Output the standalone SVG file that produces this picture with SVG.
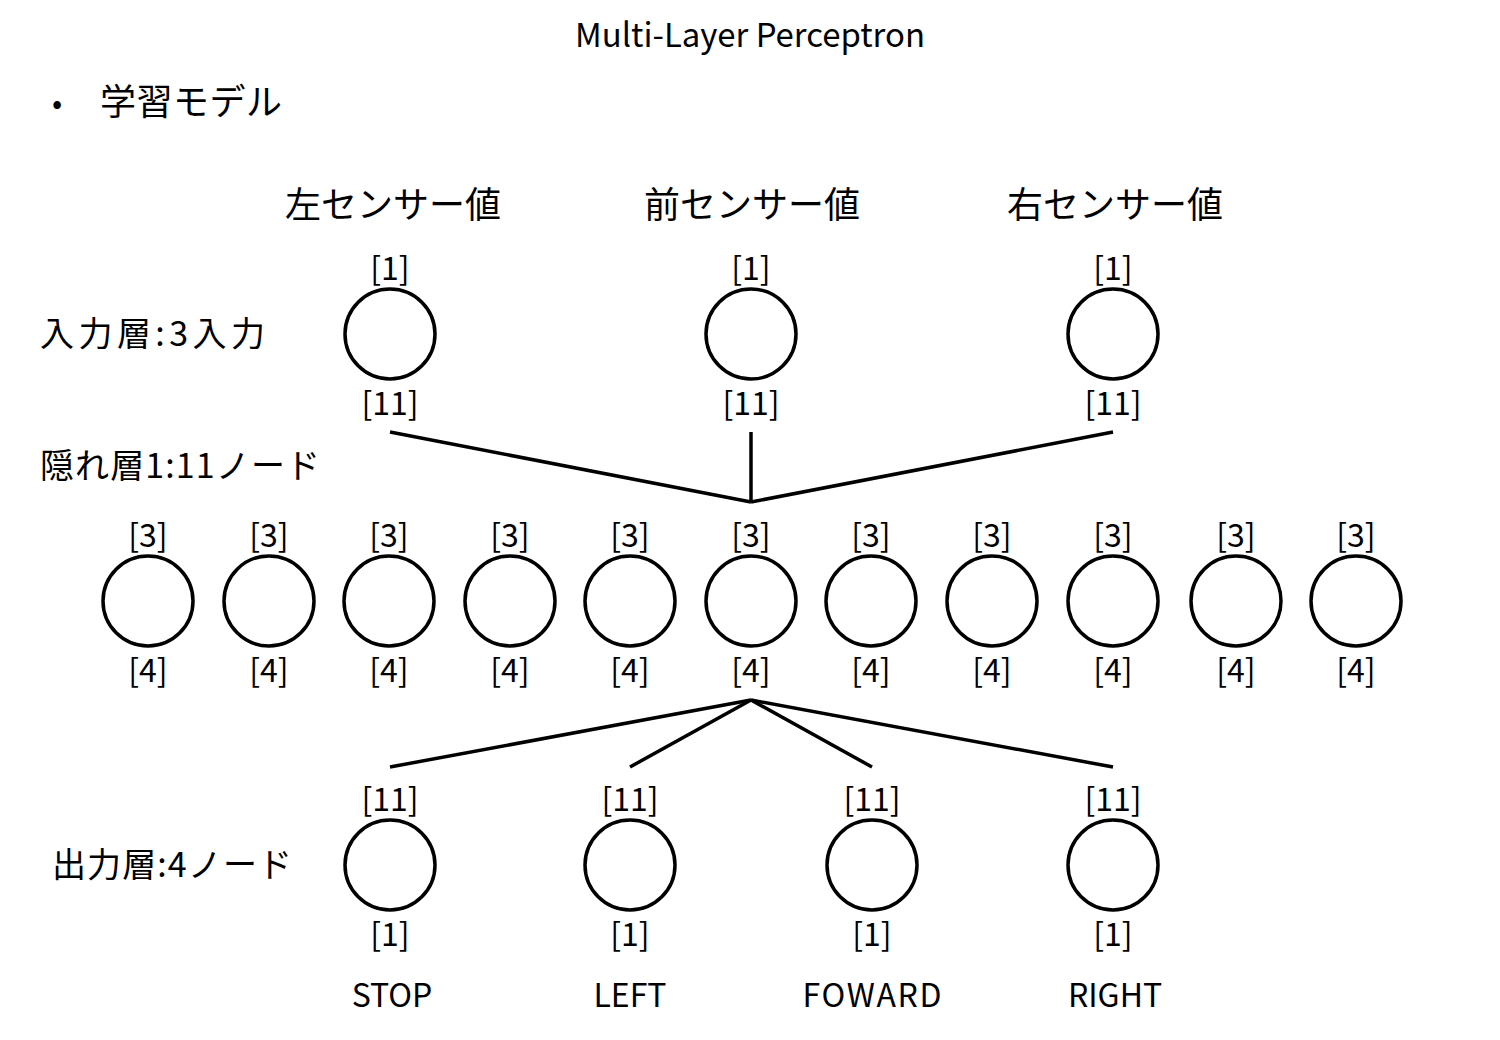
<svg xmlns="http://www.w3.org/2000/svg" width="1500" height="1040" viewBox="0 0 1500 1040">
<style>
text{font-family:"Noto Sans CJK JP","Noto Sans",sans-serif;fill:#000}
.t{font-size:32px;text-anchor:middle}
.b{font-size:32px;text-anchor:middle}
.j{font-size:34px}
.s{font-size:36px;text-anchor:middle}
.n{fill:#fff;stroke:#000;stroke-width:3.5}
.c{stroke:#000;stroke-width:3.5;fill:none}
</style>
<rect width="1500" height="1040" fill="#fff"/>
<text x="750" y="47" style="font-size:33px;text-anchor:middle" textLength="350" lengthAdjust="spacingAndGlyphs">Multi-Layer Perceptron</text>
<text x="52" y="114" style="font-size:30px">•</text>
<text x="100" y="115" style="font-size:36px" textLength="182">学習モデル</text>
<g id="layer-labels">
<text class="j" x="40" y="346" textLength="225">入力層:3入力</text>
<text class="j" x="40" y="478" textLength="280">隠れ層1:11ノード</text>
<text class="j" x="52" y="877" textLength="240">出力層:4ノード</text>
</g>
<g id="connectors">
<line class="c" x1="390" y1="432" x2="751" y2="502"/>
<line class="c" x1="751" y1="432" x2="751" y2="502"/>
<line class="c" x1="1113" y1="432" x2="751" y2="502"/>
<line class="c" x1="751" y1="700" x2="390" y2="767"/>
<line class="c" x1="751" y1="700" x2="630" y2="767"/>
<line class="c" x1="751" y1="700" x2="872" y2="767"/>
<line class="c" x1="751" y1="700" x2="1113" y2="767"/>
</g>
<g id="in1"><text class="s" x="393" y="218">左センサー値</text><text class="b" x="390" y="280">[1]</text><circle class="n" cx="390" cy="334" r="45"/><text class="b" x="390" y="415">[11]</text></g>
<g id="in2"><text class="s" x="752" y="218">前センサー値</text><text class="b" x="751" y="280">[1]</text><circle class="n" cx="751" cy="334" r="45"/><text class="b" x="751" y="415">[11]</text></g>
<g id="in3"><text class="s" x="1115" y="218">右センサー値</text><text class="b" x="1113" y="280">[1]</text><circle class="n" cx="1113" cy="334" r="45"/><text class="b" x="1113" y="415">[11]</text></g>
<g id="h1"><text class="b" x="148" y="547">[3]</text><circle class="n" cx="148" cy="601" r="45"/><text class="b" x="148" y="682">[4]</text></g>
<g id="h2"><text class="b" x="269" y="547">[3]</text><circle class="n" cx="269" cy="601" r="45"/><text class="b" x="269" y="682">[4]</text></g>
<g id="h3"><text class="b" x="389" y="547">[3]</text><circle class="n" cx="389" cy="601" r="45"/><text class="b" x="389" y="682">[4]</text></g>
<g id="h4"><text class="b" x="510" y="547">[3]</text><circle class="n" cx="510" cy="601" r="45"/><text class="b" x="510" y="682">[4]</text></g>
<g id="h5"><text class="b" x="630" y="547">[3]</text><circle class="n" cx="630" cy="601" r="45"/><text class="b" x="630" y="682">[4]</text></g>
<g id="h6"><text class="b" x="751" y="547">[3]</text><circle class="n" cx="751" cy="601" r="45"/><text class="b" x="751" y="682">[4]</text></g>
<g id="h7"><text class="b" x="871" y="547">[3]</text><circle class="n" cx="871" cy="601" r="45"/><text class="b" x="871" y="682">[4]</text></g>
<g id="h8"><text class="b" x="992" y="547">[3]</text><circle class="n" cx="992" cy="601" r="45"/><text class="b" x="992" y="682">[4]</text></g>
<g id="h9"><text class="b" x="1113" y="547">[3]</text><circle class="n" cx="1113" cy="601" r="45"/><text class="b" x="1113" y="682">[4]</text></g>
<g id="h10"><text class="b" x="1236" y="547">[3]</text><circle class="n" cx="1236" cy="601" r="45"/><text class="b" x="1236" y="682">[4]</text></g>
<g id="h11"><text class="b" x="1356" y="547">[3]</text><circle class="n" cx="1356" cy="601" r="45"/><text class="b" x="1356" y="682">[4]</text></g>
<g id="o1"><text class="b" x="390" y="811">[11]</text><circle class="n" cx="390" cy="865" r="45"/><text class="b" x="390" y="946">[1]</text><text class="t" x="392" y="1007">STOP</text></g>
<g id="o2"><text class="b" x="630" y="811">[11]</text><circle class="n" cx="630" cy="865" r="45"/><text class="b" x="630" y="946">[1]</text><text class="t" x="630" y="1007">LEFT</text></g>
<g id="o3"><text class="b" x="872" y="811">[11]</text><circle class="n" cx="872" cy="865" r="45"/><text class="b" x="872" y="946">[1]</text><text class="t" x="872" y="1007" textLength="139">FOWARD</text></g>
<g id="o4"><text class="b" x="1113" y="811">[11]</text><circle class="n" cx="1113" cy="865" r="45"/><text class="b" x="1113" y="946">[1]</text><text class="t" x="1115" y="1007">RIGHT</text></g>
</svg>
